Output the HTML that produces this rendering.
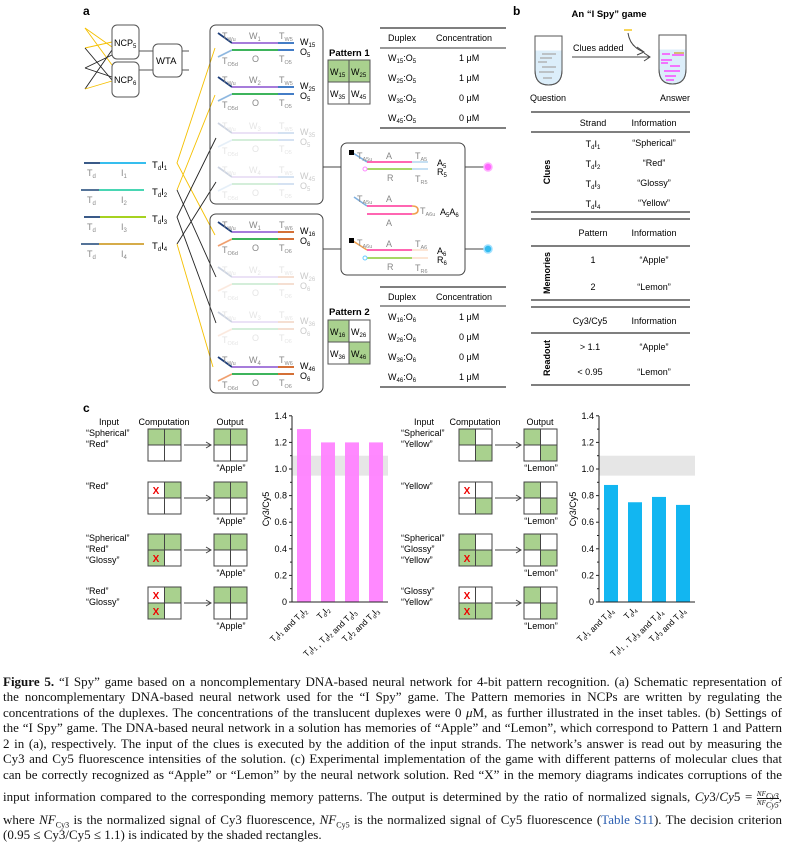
<!DOCTYPE html>
<html><head><meta charset="utf-8"><style>
body{margin:0;background:#fff;width:785px;height:845px;overflow:hidden;position:relative}
svg{position:absolute;left:0;top:0}
svg text{font-family:"Liberation Sans",sans-serif}
.cl{position:absolute;left:3px;width:779px;font-family:"Liberation Serif",serif;font-size:13px;line-height:15px;height:15px;white-space:nowrap;text-align:justify;text-align-last:justify;color:#111}
.cl i{font-style:italic}
.cl sub{font-size:8px;line-height:0}
.fr{display:inline-block;vertical-align:middle;text-align:center;font-size:7px;line-height:8px;font-style:italic}
.fr span{display:block}
.fr span:first-child{border-bottom:0.8px solid #111}
</style></head><body>
<svg width="785" height="660" viewBox="0 0 785 660" font-size="9.5">
<text x="83" y="15" font-size="12" font-weight="bold">a</text>
<g stroke-width="0.9">
<line x1="85" y1="28" x2="112" y2="47" stroke="#f5c000"/>
<line x1="85" y1="28" x2="112" y2="65" stroke="#f5c000"/>
<line x1="85" y1="48" x2="112" y2="42" stroke="#f5c000"/>
<line x1="85" y1="48" x2="112" y2="80" stroke="#222"/>
<line x1="85" y1="68" x2="112" y2="55" stroke="#222"/>
<line x1="85" y1="68" x2="112" y2="77" stroke="#222"/>
<line x1="85" y1="89" x2="112" y2="50" stroke="#222"/>
<line x1="85" y1="89" x2="112" y2="81" stroke="#f5c000"/>
</g>
<rect x="112" y="25" width="27" height="34" rx="5" fill="#fff" stroke="#555"/>
<rect x="112" y="62" width="27" height="35" rx="5" fill="#fff" stroke="#555"/>
<rect x="153" y="44" width="29" height="33" rx="5" fill="#fff" stroke="#555"/>
<text x="114" y="46" font-size="9">NCP<tspan font-size="6" dy="2">5</tspan></text>
<text x="114" y="83" font-size="9">NCP<tspan font-size="6" dy="2">6</tspan></text>
<text x="156" y="64" font-size="9.5">WTA</text>
<g stroke="#555"><line x1="139" y1="51" x2="153" y2="51"/><line x1="139" y1="70" x2="153" y2="70"/><line x1="182" y1="51" x2="189" y2="51"/><line x1="182" y1="70" x2="189" y2="70"/></g>

<g stroke-width="1.8">
<line x1="84" y1="163" x2="100" y2="163" stroke="#24487a"/><line x1="100" y1="163" x2="146" y2="163" stroke="#1ab4ec"/>
<line x1="81" y1="190" x2="99" y2="190" stroke="#3c5f8a"/><line x1="99" y1="190" x2="144" y2="190" stroke="#2fd0a8"/>
<line x1="84" y1="217" x2="100" y2="217" stroke="#24487a"/><line x1="100" y1="217" x2="146" y2="217" stroke="#99cc00"/>
<line x1="81" y1="244" x2="99" y2="244" stroke="#3c5f8a"/><line x1="99" y1="244" x2="144" y2="244" stroke="#d0a030"/>
</g>
<g fill="#888" font-size="9">
<text x="87" y="176">T<tspan font-size="6" dy="2">d</tspan></text><text x="121" y="176">I<tspan font-size="6" dy="2">1</tspan></text>
<text x="87" y="203">T<tspan font-size="6" dy="2">d</tspan></text><text x="121" y="203">I<tspan font-size="6" dy="2">2</tspan></text>
<text x="87" y="230">T<tspan font-size="6" dy="2">d</tspan></text><text x="121" y="230">I<tspan font-size="6" dy="2">3</tspan></text>
<text x="87" y="257">T<tspan font-size="6" dy="2">d</tspan></text><text x="121" y="257">I<tspan font-size="6" dy="2">4</tspan></text>
</g>
<g font-size="9.5">
<text x="152" y="168">T<tspan font-size="6" dy="2">d</tspan><tspan dy="-2">I</tspan><tspan font-size="6" dy="2">1</tspan></text>
<text x="152" y="195">T<tspan font-size="6" dy="2">d</tspan><tspan dy="-2">I</tspan><tspan font-size="6" dy="2">2</tspan></text>
<text x="152" y="222">T<tspan font-size="6" dy="2">d</tspan><tspan dy="-2">I</tspan><tspan font-size="6" dy="2">3</tspan></text>
<text x="152" y="249">T<tspan font-size="6" dy="2">d</tspan><tspan dy="-2">I</tspan><tspan font-size="6" dy="2">4</tspan></text>
</g>
<g stroke-width="0.9" fill="none">
<polyline points="215,48 177,163 215,235" stroke="#f5c000"/>
<polyline points="215,95 177,190" stroke="#f5c000"/>
<line x1="177" y1="190" x2="216" y2="277" stroke="#222"/>
<polyline points="216,138 177,217 216,323" stroke="#222"/>
<polyline points="216,182 177,244" stroke="#222"/>
<line x1="177" y1="244" x2="213" y2="367" stroke="#f5c000"/>
</g>

<rect x="210" y="25" width="113" height="179" rx="6" fill="none" stroke="#444"/>
<rect x="210" y="214" width="113" height="179" rx="6" fill="none" stroke="#444"/>
<g id="rows"></g>

<text x="329" y="56" font-size="9.5" font-weight="bold">Pattern 1</text>
<rect x="328" y="60" width="42" height="22" fill="#a9d18e"/>
<g fill="none" stroke="#555"><rect x="328" y="60" width="42" height="44"/><line x1="349" y1="60" x2="349" y2="104"/><line x1="328" y1="82" x2="370" y2="82"/></g>
<text x="330" y="75" font-size="9">W<tspan font-size="6" dy="2">15</tspan></text><text x="351" y="75" font-size="9">W<tspan font-size="6" dy="2">25</tspan></text>
<text x="330" y="97" font-size="9">W<tspan font-size="6" dy="2">35</tspan></text><text x="351" y="97" font-size="9">W<tspan font-size="6" dy="2">45</tspan></text>
<text x="329" y="315" font-size="9.5" font-weight="bold">Pattern 2</text>
<rect x="328" y="320" width="21" height="22" fill="#a9d18e"/><rect x="349" y="342" width="21" height="22" fill="#a9d18e"/>
<g fill="none" stroke="#555"><rect x="328" y="320" width="42" height="44"/><line x1="349" y1="320" x2="349" y2="364"/><line x1="328" y1="342" x2="370" y2="342"/></g>
<text x="330" y="335" font-size="9">W<tspan font-size="6" dy="2">16</tspan></text><text x="351" y="335" font-size="9">W<tspan font-size="6" dy="2">26</tspan></text>
<text x="330" y="357" font-size="9">W<tspan font-size="6" dy="2">36</tspan></text><text x="351" y="357" font-size="9">W<tspan font-size="6" dy="2">46</tspan></text>

<g stroke="#333"><line x1="380" y1="28" x2="506" y2="28" stroke-width="1.2"/><line x1="380" y1="48" x2="506" y2="48"/><line x1="380" y1="128" x2="506" y2="128" stroke-width="1.2"/>
<line x1="380" y1="287" x2="506" y2="287" stroke-width="1.2"/><line x1="380" y1="306" x2="506" y2="306"/><line x1="380" y1="387" x2="506" y2="387" stroke-width="1.2"/></g>
<g font-size="9"><text x="388" y="41">Duplex</text><text x="436" y="41">Concentration</text>
<text x="388" y="300">Duplex</text><text x="436" y="300">Concentration</text></g>
<g id="tab"></g>

<rect x="341" y="143" width="124" height="132" rx="6" fill="none" stroke="#444"/>
<g stroke="#444"><line x1="323" y1="167" x2="341" y2="167"/><line x1="323" y1="249" x2="341" y2="249"/><line x1="465" y1="167" x2="484" y2="167"/><line x1="465" y1="249" x2="484" y2="249"/></g>
<circle cx="488" cy="167" r="4" fill="#ff66ff" stroke="#ffb0ff" stroke-width="1.5"/>
<circle cx="488" cy="249" r="4" fill="#33bbee" stroke="#a0e0ff" stroke-width="1.5"/>
<g stroke-width="1.6" fill="none">
<line x1="353" y1="153" x2="367" y2="162" stroke="#7fb0e0"/><line x1="367" y1="162" x2="412" y2="162" stroke="#ff3399"/><line x1="412" y1="162" x2="428" y2="162" stroke="#b8d8f0"/>
<line x1="367" y1="169" x2="412" y2="169" stroke="#88cc33"/><line x1="412" y1="169" x2="428" y2="169" stroke="#b8d8f0"/>
<line x1="354" y1="197" x2="367" y2="206" stroke="#7fb0e0"/><line x1="367" y1="206" x2="412" y2="206" stroke="#ff3399"/><line x1="367" y1="214" x2="412" y2="214" stroke="#ff3399"/>
<path d="M412 206 Q418 206 418 210 Q418 214 412 214" stroke="#f0a050"/>
<line x1="353" y1="241" x2="367" y2="250" stroke="#f0a050"/><line x1="367" y1="250" x2="412" y2="250" stroke="#ff3399"/><line x1="412" y1="250" x2="428" y2="250" stroke="#fbe0cc"/>
<line x1="367" y1="258" x2="412" y2="258" stroke="#88cc33"/><line x1="412" y1="258" x2="428" y2="258" stroke="#fbe0cc"/>
</g>
<rect x="349" y="150" width="5" height="5" fill="#000"/><rect x="349" y="238" width="5" height="5" fill="#000"/>
<circle cx="365" cy="169" r="2" fill="#fff" stroke="#ff88ff"/><circle cx="365" cy="258" r="2" fill="#fff" stroke="#66ccff"/>
<g fill="#888" font-size="9">
<text x="357" y="159">T<tspan font-size="5.5" dy="2">A5u</tspan></text><text x="386" y="159">A</text><text x="415" y="159">T<tspan font-size="5.5" dy="2">A5</tspan></text>
<text x="387" y="181">R</text><text x="415" y="182">T<tspan font-size="5.5" dy="2">R5</tspan></text>
<text x="357" y="202">T<tspan font-size="5.5" dy="2">A5u</tspan></text><text x="386" y="202">A</text><text x="420" y="214">T<tspan font-size="5.5" dy="2">A6u</tspan></text><text x="386" y="226">A</text>
<text x="357" y="246">T<tspan font-size="5.5" dy="2">A6u</tspan></text><text x="386" y="247">A</text><text x="415" y="247">T<tspan font-size="5.5" dy="2">A6</tspan></text>
<text x="387" y="270">R</text><text x="415" y="271">T<tspan font-size="5.5" dy="2">R6</tspan></text>
</g>
<g font-size="9">
<text x="437" y="166">A<tspan font-size="6" dy="2">5</tspan></text><text x="437" y="175">R<tspan font-size="6" dy="2">5</tspan></text>
<text x="440" y="215">A<tspan font-size="6" dy="2">5</tspan><tspan dy="-2">A</tspan><tspan font-size="6" dy="2">6</tspan></text>
<text x="437" y="254">A<tspan font-size="6" dy="2">6</tspan></text><text x="437" y="263">R<tspan font-size="6" dy="2">6</tspan></text>
</g>

<text x="513" y="15" font-size="12" font-weight="bold">b</text>
<text x="609" y="17" font-size="9.5" font-weight="bold" text-anchor="middle">An “I Spy” game</text>
<path d="M535 36 L562 36 L562 70 Q562 85 548.5 85 Q535 85 535 70 Z" fill="#dceefa" stroke="#555"/>
<rect x="535.5" y="36.5" width="26" height="14" fill="#fff"/>
<path d="M535 36 L562 36 L562 70 Q562 85 548.5 85 Q535 85 535 70 Z" fill="none" stroke="#555"/>
<g stroke="#aaa" stroke-width="1.3"><line x1="542" y1="54" x2="556" y2="54"/><line x1="540" y1="58" x2="552" y2="58"/><line x1="538" y1="62" x2="547" y2="62"/><line x1="542" y1="67" x2="556" y2="67"/><line x1="539" y1="72" x2="554" y2="72"/><line x1="543" y1="78" x2="552" y2="78"/></g>
<path d="M659 35 L686 35 L686 69 Q686 84 672.5 84 Q659 84 659 69 Z" fill="#dceefa" stroke="#555"/>
<rect x="659.5" y="35.5" width="26" height="14" fill="#fff"/>
<path d="M659 35 L686 35 L686 69 Q686 84 672.5 84 Q659 84 659 69 Z" fill="none" stroke="#555"/>
<g stroke="#ff33ff" stroke-width="1.3"><line x1="662" y1="54" x2="670" y2="54"/><line x1="672" y1="55" x2="684" y2="55"/><line x1="661" y1="60" x2="672" y2="60"/><line x1="661" y1="63" x2="668" y2="63"/><line x1="670" y1="66" x2="680" y2="66"/><line x1="664" y1="71" x2="680" y2="71"/><line x1="665" y1="76" x2="676" y2="76"/><line x1="666" y1="80" x2="674" y2="80"/></g>
<line x1="674" y1="53" x2="684" y2="53" stroke="#d0a030" stroke-width="1.3"/>
<line x1="572" y1="57" x2="649" y2="57" stroke="#444"/><path d="M644 53 L650 57 L644 61" fill="none" stroke="#444"/>
<text x="573" y="51" font-size="9">Clues added</text>
<line x1="624" y1="30" x2="632" y2="30" stroke="#f5c000" stroke-width="1.3"/>
<path d="M628 33 Q630 47 644 52" fill="none" stroke="#444"/><path d="M637 47 L644 52 L637 55" fill="none" stroke="#444"/>
<text x="548" y="101" font-size="9" text-anchor="middle">Question</text><text x="675" y="101" font-size="9" text-anchor="middle">Answer</text>
<g stroke="#333"><line x1="531" y1="112" x2="690" y2="112" stroke-width="1.2"/><line x1="531" y1="132" x2="690" y2="132" stroke-width="1.2"/><line x1="531" y1="212" x2="690" y2="212" stroke-width="1.2"/>
<line x1="531" y1="219" x2="690" y2="219" stroke-width="1.2"/><line x1="531" y1="246" x2="690" y2="246" stroke-width="1.2"/><line x1="531" y1="300" x2="690" y2="300" stroke-width="1.2"/>
<line x1="531" y1="307" x2="690" y2="307" stroke-width="1.2"/><line x1="531" y1="333" x2="690" y2="333" stroke-width="1.2"/><line x1="531" y1="385" x2="690" y2="385" stroke-width="1.2"/></g>
<g font-size="9" text-anchor="middle">
<text x="593" y="126">Strand</text><text x="654" y="126">Information</text>
<text x="593" y="147">T<tspan font-size="6" dy="2">d</tspan><tspan dy="-2">I</tspan><tspan font-size="6" dy="2">1</tspan></text><text x="654" y="146">“Spherical”</text>
<text x="593" y="167">T<tspan font-size="6" dy="2">d</tspan><tspan dy="-2">I</tspan><tspan font-size="6" dy="2">2</tspan></text><text x="654" y="166">“Red”</text>
<text x="593" y="187">T<tspan font-size="6" dy="2">d</tspan><tspan dy="-2">I</tspan><tspan font-size="6" dy="2">3</tspan></text><text x="654" y="186">“Glossy”</text>
<text x="593" y="207">T<tspan font-size="6" dy="2">d</tspan><tspan dy="-2">I</tspan><tspan font-size="6" dy="2">4</tspan></text><text x="654" y="206">“Yellow”</text>
<text x="593" y="236">Pattern</text><text x="654" y="236">Information</text>
<text x="593" y="263">1</text><text x="654" y="263">“Apple”</text>
<text x="593" y="290">2</text><text x="654" y="290">“Lemon”</text>
<text x="590" y="324">Cy3/Cy5</text><text x="654" y="324">Information</text>
<text x="590" y="350">&gt; 1.1</text><text x="654" y="350">“Apple”</text>
<text x="590" y="375">&lt; 0.95</text><text x="654" y="375">“Lemon”</text>
<text transform="translate(550 172) rotate(-90)" font-weight="bold">Clues</text>
<text transform="translate(550 273) rotate(-90)" font-weight="bold">Memories</text>
<text transform="translate(550 358) rotate(-90)" font-weight="bold">Readout</text>
</g>

<text x="83" y="412" font-size="12" font-weight="bold">c</text>
<g id="c"></g>
</svg>
<div class="cl" style="top:674px"><b>Figure 5.</b> “I Spy” game based on a noncomplementary DNA-based neural network for 4-bit pattern recognition. (a) Schematic representation of</div>
<div class="cl" style="top:689px">the noncomplementary DNA-based neural network used for the “I Spy” game. The Pattern memories in NCPs are written by regulating the</div>
<div class="cl" style="top:705px">concentrations of the duplexes. The concentrations of the translucent duplexes were 0 <i>μ</i>M, as further illustrated in the inset tables. (b) Settings of</div>
<div class="cl" style="top:720px">the “I Spy” game. The DNA-based neural network in a solution has memories of “Apple” and “Lemon”, which correspond to Pattern 1 and Pattern</div>
<div class="cl" style="top:736px">2 in (a), respectively. The input of the clues is executed by the addition of the input strands. The network’s answer is read out by measuring the</div>
<div class="cl" style="top:751px">Cy3 and Cy5 fluorescence intensities of the solution. (c) Experimental implementation of the game with different patterns of molecular clues that</div>
<div class="cl" style="top:767px">can be correctly recognized as “Apple” or “Lemon” by the neural network solution. Red “X” in the memory diagrams indicates corruptions of the</div>
<div class="cl" style="top:789px">input information compared to the corresponding memory patterns. The output is determined by the ratio of normalized signals, <i>Cy</i>3/<i>Cy</i>5 = <span class="fr"><span>NF<sub>Cy3</sub></span><span>NF<sub>Cy5</sub></span></span>,</div>
<div class="cl" style="top:812px">where <i>NF</i><sub>Cy3</sub> is the normalized signal of Cy3 fluorescence, <i>NF</i><sub>Cy5</sub> is the normalized signal of Cy5 fluorescence (<span style="color:#2a5db0">Table S11</span>). The decision criterion</div>
<div class="cl" style="top:827px;text-align:left;text-align-last:left">(0.95 ≤ Cy3/Cy5 ≤ 1.1) is indicated by the shaded rectangles.</div>
<script>
function add(parent,html){parent.insertAdjacentHTML('beforeend',html);}
const rows=document.getElementById('rows');
function row(y,n,w,o,op,blue,lt,grp){
 let h=`<g opacity="${op}" stroke-width="1.8">
 <line x1="218" y1="${y-10}" x2="232" y2="${y}" stroke="#1f3f7a"/>
 <line x1="232" y1="${y}" x2="278" y2="${y}" stroke="#9a6ad6"/>
 <line x1="278" y1="${y}" x2="294" y2="${y}" stroke="${blue}"/>
 <line x1="218" y1="${y+14}" x2="232" y2="${y+7}" stroke="${lt}"/>
 <line x1="232" y1="${y+7}" x2="278" y2="${y+7}" stroke="#22aa44"/>
 <line x1="278" y1="${y+7}" x2="294" y2="${y+7}" stroke="${blue}"/>
 <g stroke="none" fill="#888" font-size="9">
 <text x="222" y="${y-4}">T<tspan font-size="5.5" dy="2">Wu</tspan></text>
 <text x="249" y="${y-4}">W<tspan font-size="6" dy="2">${n}</tspan></text>
 <text x="279" y="${y-4}">T<tspan font-size="5.5" dy="2">W${grp}</tspan></text>
 <text x="222" y="${y+21}">T<tspan font-size="5.5" dy="2">O${grp}d</tspan></text>
 <text x="252" y="${y+19}">O</text>
 <text x="279" y="${y+19}">T<tspan font-size="5.5" dy="2">O${grp}</tspan></text>
 </g>
 <g stroke="none" fill="#000" font-size="9">
 <text x="300" y="${y+2}">W<tspan font-size="6" dy="2">${w}</tspan></text>
 <text x="300" y="${y+12}">O<tspan font-size="6" dy="2">${o}</tspan></text>
 </g></g>`;
 add(rows,h);
}
[[43,1,15,1],[87,2,25,1],[133,3,35,.22],[177,4,45,.22]].forEach(r=>row(r[0],r[1],r[2],5,r[3],'#2f6fc0','#8fb8e0',5));
[[232,1,16,1],[277,2,26,.22],[322,3,36,.22],[367,4,46,1]].forEach(r=>row(r[0],r[1],r[2],6,r[3],'#d06020','#f0a070',6));
const tab=document.getElementById('tab');
[['15','5','1'],['25','5','1'],['35','5','0'],['45','5','0']].forEach((r,i)=>{let y=61+i*20;add(tab,`<text x="388" y="${y}" font-size="9">W<tspan font-size="6" dy="2">${r[0]}</tspan><tspan dy="-2">:O</tspan><tspan font-size="6" dy="2">${r[1]}</tspan></text><text x="459" y="${y}" font-size="9">${r[2]} μM</text>`)});
[['16','6','1'],['26','6','0'],['36','6','0'],['46','6','1']].forEach((r,i)=>{let y=320+i*20;add(tab,`<text x="388" y="${y}" font-size="9">W<tspan font-size="6" dy="2">${r[0]}</tspan><tspan dy="-2">:O</tspan><tspan font-size="6" dy="2">${r[1]}</tspan></text><text x="459" y="${y}" font-size="9">${r[2]} μM</text>`)});

const c=document.getElementById('c');
function grid(x,y,fill,xs){
 let h='';const p=[[0,0],[16,0],[0,16],[16,16]];
 p.forEach((q,i)=>{if(fill[i])h+=`<rect x="${x+q[0]}" y="${y+q[1]}" width="16.5" height="16" fill="#a9d18e"/>`;});
 h+=`<rect x="${x}" y="${y}" width="33" height="32" fill="none" stroke="#444"/><line x1="${x+16.5}" y1="${y}" x2="${x+16.5}" y2="${y+32}" stroke="#444"/><line x1="${x}" y1="${y+16}" x2="${x+33}" y2="${y+16}" stroke="#444"/>`;
 (xs||[]).forEach(i=>{h+=`<text x="${x+p[i][0]+8}" y="${y+p[i][1]+12}" fill="#e00" font-size="10" font-weight="bold" text-anchor="middle">X</text>`});
 return h;
}
function side(ox,inputs,comps,outp,word,cx,ox2){
 let h=`<text x="${ox+23}" y="425" font-size="9" text-anchor="middle">Input</text><text x="${cx+16}" y="425" font-size="9" text-anchor="middle">Computation</text><text x="${ox2+16}" y="425" font-size="9" text-anchor="middle">Output</text>`;
 const tops=[429,482,534,587];
 tops.forEach((t,i)=>{
  inputs[i].forEach((s,j)=>{h+=`<text x="${ox}" y="${t+7+j*11}" font-size="9">${s}</text>`});
  h+=grid(cx,t,comps[i][0],comps[i][1]);
  h+=grid(ox2,t,outp,[]);
  h+=`<line x1="${cx+36}" y1="${t+16}" x2="${ox2-3}" y2="${t+16}" stroke="#444"/><path d="M${ox2-8} ${t+13} L${ox2-3} ${t+16} L${ox2-8} ${t+19}" fill="none" stroke="#444"/>`;
  h+=`<text x="${ox2+17}" y="${t+42}" font-size="9" text-anchor="middle">“${word}”</text>`;
 });
 add(c,h);
}
side(86,[['“Spherical”','“Red”'],['“Red”'],['“Spherical”','“Red”','“Glossy”'],['“Red”','“Glossy”']],
 [[[1,1,0,0],[]],[[0,1,0,0],[0]],[[1,1,1,0],[2]],[[0,1,1,0],[0,2]]],[1,1,0,0],'Apple',148,214);
side(401,[['“Spherical”','“Yellow”'],['“Yellow”'],['“Spherical”','“Glossy”','“Yellow”'],['“Glossy”','“Yellow”']],
 [[[1,0,0,1],[]],[[0,0,0,1],[0]],[[1,0,1,1],[2]],[[0,0,1,1],[0,2]]],[1,0,0,1],'Lemon',459,524);

function chart(ax,vals,col,labels){
 const Y=v=>602-v*133;
 let h=`<rect x="${ax}" y="${Y(1.1)}" width="96" height="${Y(0.95)-Y(1.1)}" fill="#e6e6e6"/>`;
 vals.forEach((v,i)=>{h+=`<rect x="${ax+5+i*24}" y="${Y(v)}" width="14" height="${602-Y(v)}" fill="${col}" opacity="0.93"/>`});
 h+=`<line x1="${ax}" y1="416" x2="${ax}" y2="602" stroke="#222"/><line x1="${ax}" y1="602" x2="${ax+96}" y2="602" stroke="#222"/>`;
 for(let k=0;k<=14;k++){let y=Y(k/10);h+=`<line x1="${ax-(k%2?2:3)}" y1="${y}" x2="${ax}" y2="${y}" stroke="#222"/>`;if(k%2==0)h+=`<text x="${ax-5}" y="${y+3}" font-size="9" text-anchor="end">${k==0?'0':(k/10).toFixed(1)}</text>`;}
 h+=`<text transform="translate(${ax-23} 509) rotate(-90)" font-size="9" text-anchor="middle">Cy3/Cy5</text>`;
 labels.forEach((l,i)=>{h+=`<text transform="translate(${ax+14+i*24} 610) rotate(-45)" font-size="8.5" text-anchor="end">${l}</text>`});
 add(c,h);
}
const T=n=>`T<tspan font-size="5.5" dy="2">d</tspan><tspan dy="-2">I</tspan><tspan font-size="5.5" dy="2">${n}</tspan><tspan dy="-2"></tspan>`;
chart(292,[1.3,1.2,1.2,1.2],'#ff80ff',[`${T(1)} and ${T(2)}`,`${T(2)}`,`${T(1)} , ${T(2)} and ${T(3)}`,`${T(2)} and ${T(3)}`]);
chart(599,[0.88,0.75,0.79,0.73],'#00b0f0',[`${T(1)} and ${T(4)}`,`${T(4)}`,`${T(1)} , ${T(3)} and ${T(4)}`,`${T(3)} and ${T(4)}`]);
</script>
</body></html>
